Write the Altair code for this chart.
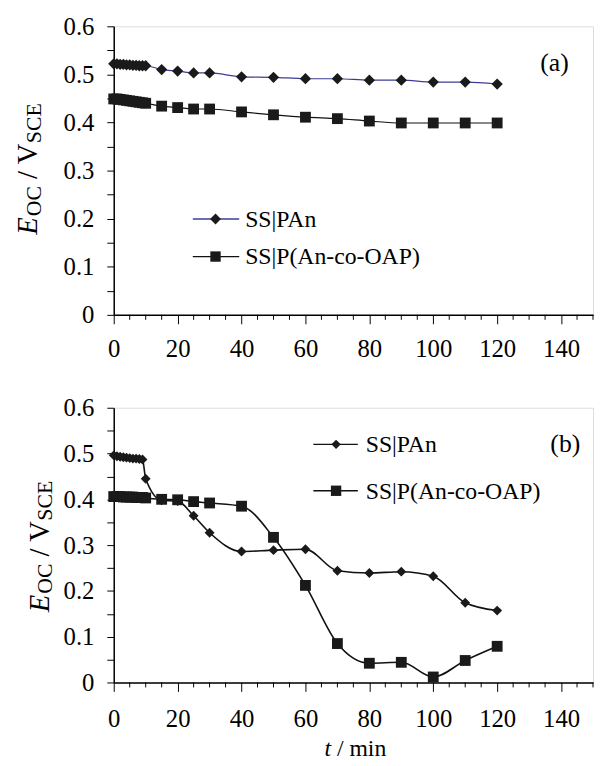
import altair as alt
import pandas as pd

FONT = "'Liberation Serif', 'Times New Roman', Times, serif"

# ---------------- data ----------------
# panel (a)
t_a_pan = [0, 1, 2, 3, 4, 5, 6, 7, 8, 9, 10, 15, 20, 25, 30, 40, 50, 60, 70, 80, 90, 100, 110, 120]
e_a_pan = [0.522, 0.522, 0.521, 0.521, 0.520, 0.520, 0.519, 0.519, 0.518, 0.518, 0.518,
           0.510, 0.507, 0.503, 0.503, 0.495, 0.494, 0.491, 0.491, 0.488, 0.488, 0.484, 0.484, 0.480]
t_a_co = [0, 1, 2, 3, 4, 5, 6, 7, 8, 9, 10, 15, 20, 25, 30, 40, 50, 60, 70, 80, 90, 100, 110, 120]
e_a_co = [0.449, 0.449, 0.448, 0.447, 0.446, 0.445, 0.444, 0.443, 0.442, 0.441, 0.440,
          0.434, 0.431, 0.428, 0.428, 0.422, 0.416, 0.411, 0.408, 0.403, 0.399, 0.399, 0.399, 0.399]
# panel (b)
t_b_pan = [0, 1, 2, 3, 4, 5, 6, 7, 8, 9, 10, 15, 20, 25, 30, 40, 50, 60, 70, 80, 90, 100, 110, 120]
e_b_pan = [0.496, 0.494, 0.493, 0.492, 0.491, 0.490, 0.489, 0.489, 0.488, 0.487, 0.445,
           0.398, 0.396, 0.364, 0.327, 0.286, 0.289, 0.291, 0.244, 0.239, 0.242, 0.232, 0.174, 0.157]
t_b_co = [0, 1, 2, 3, 4, 5, 6, 7, 8, 9, 10, 15, 20, 25, 30, 40, 50, 60, 70, 80, 90, 100, 110, 120]
e_b_co = [0.406, 0.406, 0.406, 0.405, 0.405, 0.405, 0.405, 0.404, 0.404, 0.404, 0.403,
          0.400, 0.399, 0.395, 0.392, 0.385, 0.317, 0.212, 0.085, 0.042, 0.044, 0.012, 0.048, 0.079]

series_names = ["SS|PAn", "SS|P(An-co-OAP)"]
x_major = [0, 20, 40, 60, 80, 100, 120, 140]
x_minor = [5, 10, 15, 25, 30, 35, 45, 50, 55, 65, 70, 75, 85, 90, 95, 105, 110, 115, 125, 130, 135, 145, 150]
y_ticks = [0, 0.05, 0.1, 0.15, 0.2, 0.25, 0.3, 0.35, 0.4, 0.45, 0.5, 0.55, 0.6]

W = 485
LFS = 25


def make_panel(H, tpan, epan, tco, eco, pan_line_color, interp, label_pad_x, lw, dsize,
               leg, tag, tag_pos, ytitle_pos, xtitle):
    xs = alt.Scale(domain=[0, 150], nice=False, zero=False)
    ys = alt.Scale(domain=[0, 0.6], nice=False, zero=False)
    xaxis = alt.Axis(values=x_major, title=None, grid=False, tickSize=9, tickColor="black",
                     tickWidth=1, domainColor="black", domainWidth=1.5, labelFont=FONT,
                     labelFontSize=LFS, labelColor="black", labelPadding=label_pad_x,
                     labelFlush=False, format="d")
    yaxis = alt.Axis(values=y_ticks, title=None, grid=False, tickSize=7, tickColor="black",
                     tickWidth=1, domainColor="black", domainWidth=1.5, labelFont=FONT,
                     labelFontSize=LFS, labelColor="black", labelPadding=13,
                     labelExpr="abs(datum.value*10 - round(datum.value*10)) < 0.001 ? (datum.value == 0 ? '0' : format(datum.value, '.1f')) : ''")
    X = alt.X("t:Q", scale=xs, axis=xaxis)
    Y = alt.Y("e:Q", scale=ys, axis=yaxis)

    layers = []
    df_pan = pd.DataFrame({"t": tpan, "e": epan})
    df_co = pd.DataFrame({"t": tco, "e": eco})
    layers.append(alt.Chart(df_co).mark_line(color="#111", strokeWidth=lw, interpolate=interp).encode(x=X, y=Y))
    layers.append(alt.Chart(df_pan).mark_line(color=pan_line_color, strokeWidth=lw, interpolate=interp).encode(x=X, y=Y))
    layers.append(alt.Chart(df_co).mark_point(shape="square", size=120, filled=True, color="#1a1a1a", opacity=1).encode(x=X, y=Y))
    layers.append(alt.Chart(df_pan).mark_point(shape="diamond", size=dsize, filled=True, color="#1a1a1a", opacity=1).encode(x=X, y=Y))

    # minor x ticks
    df_minor = pd.DataFrame({"t": x_minor})
    layers.append(alt.Chart(df_minor).mark_rule(color="black", strokeWidth=1).encode(
        x=X, y=alt.value(H), y2=alt.value(H + 5)))

    one = pd.DataFrame({"k": [0]})
    # legend
    (lx0, lx1, lmx, ltx, ly1, ly2) = leg
    cols = [pan_line_color, "#111"]
    shapes = ["diamond", "square"]
    for i, ly in enumerate([ly1, ly2]):
        layers.append(alt.Chart(one).mark_rule(color=cols[i], strokeWidth=1.3).encode(
            x=alt.value(lx0), x2=alt.value(lx1), y=alt.value(ly)))
        layers.append(alt.Chart(one).mark_point(shape=shapes[i], size=110 if i else dsize - 10, filled=True,
                                                color="#1a1a1a", opacity=1).encode(
            x=alt.value(lmx), y=alt.value(ly)))
        layers.append(alt.Chart(one).mark_text(text=series_names[i], font=FONT, fontSize=24, align="left",
                                               baseline="middle", color="black").encode(
            x=alt.value(ltx), y=alt.value(ly + 1)))
    # tag (a)/(b)
    layers.append(alt.Chart(one).mark_text(text=tag, font=FONT, fontSize=26, align="center",
                                           baseline="middle", color="black").encode(
        x=alt.value(tag_pos[0]), y=alt.value(tag_pos[1])))

    # y title: E_OC / V_SCE  (rotated)
    bx, by = ytitle_pos
    big, small, sub = 29, 22, 4
    wE = 0.611 * big
    wOC = 1.389 * small
    wsp = 0.25 * big
    wSV = (0.278 + 0.25 + 0.722) * big
    parts = [("E", big, "italic", 0, by),
             ("OC", small, "normal", sub, by - wE - 1),
             ("/ V", big, "normal", 0, by - wE - 1 - wOC - wsp),
             ("SCE", small, "normal", sub, by - wE - 1 - wOC - wsp - wSV)]
    for txt, fs, st, dx, yy in parts:
        layers.append(alt.Chart(one).mark_text(text=txt, font=FONT, fontSize=fs, fontStyle=st,
                                               angle=270, align="left", baseline="alphabetic",
                                               color="black").encode(
            x=alt.value(bx + dx), y=alt.value(yy)))

    if xtitle:
        cx, cy = W / 2 + 2, H + 74
        wt = 0.278 * 24
        total = wt + 0.25 * 24 + (0.278 + 0.25 + 0.778 + 0.278 + 0.5) * 24
        sx = cx - total / 2
        layers.append(alt.Chart(one).mark_text(text="t", font=FONT, fontSize=24, fontStyle="italic",
                                               align="left", baseline="alphabetic", color="black").encode(
            x=alt.value(sx), y=alt.value(cy)))
        layers.append(alt.Chart(one).mark_text(text="/ min", font=FONT, fontSize=24,
                                               align="left", baseline="alphabetic", color="black").encode(
            x=alt.value(sx + wt + 0.25 * 24), y=alt.value(cy)))

    return alt.layer(*layers).properties(width=W, height=H)


HA = 292
HB = 278
panel_a = make_panel(HA, t_a_pan, e_a_pan, t_a_co, e_a_co, "#3d3d99", "monotone", 13, 1.2, 130,
                     (80, 127, 103, 133, 195, 233), "(a)", (446, 37), (-78, 211), False)
panel_b = make_panel(HB, t_b_pan, e_b_pan, t_b_co, e_b_co, "#111", "monotone", 16, 1.6, 100,
                     (202, 247, 225, 255, 37, 84), "(b)", (457, 37), (-66, 207), True)

chart = alt.vconcat(panel_a, panel_b, spacing=33).properties(
    padding={"left": 5, "top": 1, "right": 0, "bottom": 0}
).configure_view(stroke="#555", strokeWidth=1.5).configure(background="white")

chart.save("out.html", embed_options={"renderer": "svg", "actions": False})
